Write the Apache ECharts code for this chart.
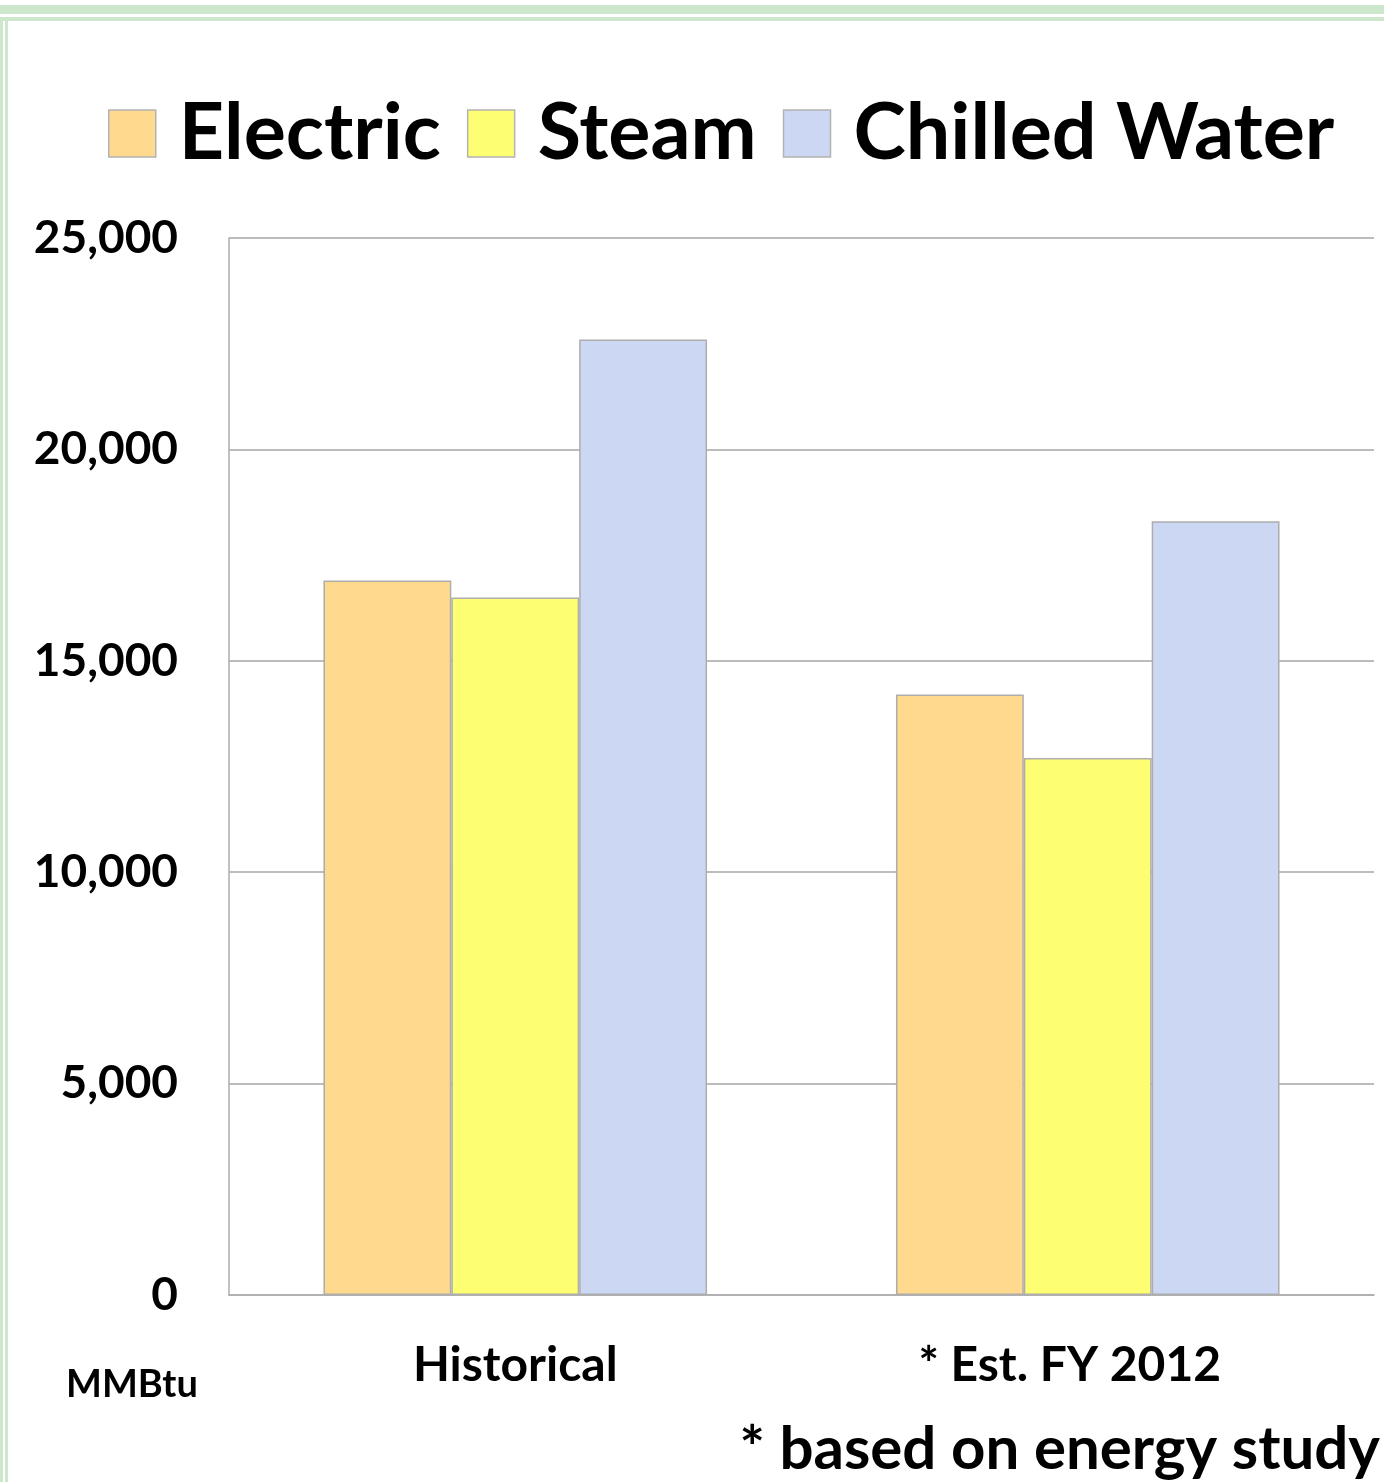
<!DOCTYPE html>
<html>
<head>
<meta charset="utf-8">
<script src="https://cdn.jsdelivr.net/npm/echarts@6/dist/echarts.min.js"></script>
<style>
html,body{margin:0;padding:0;background:#fff;}
#chart{width:1384px;height:1482px;}
</style>
</head>
<body>
<div id="chart"></div>
<script>
var categories = ['Historical', '* Est. FY 2012'];
var electric = [16900, 14200];
var steam = [16500, 12700];
var chilledWater = [22600, 18300];
var yTicks = [0, 5000, 10000, 15000, 20000, 25000];

var FONT = 'Lato';
var chart = echarts.init(document.getElementById('chart'));
var borderStyle = {color: '#adadad', width: 1.5};
function bar(name, data, color) {
  return {
    name: name, type: 'bar', data: data,
    barGap: '0%', barCategoryGap: '33%',
    itemStyle: {color: color, borderColor: '#adadad', borderWidth: 1.5}
  };
}
chart.setOption({
  animation: false,
  textStyle: {fontFamily: FONT},
  graphic: [
    {type: 'rect', shape: {x: 0, y: 5, width: 1384, height: 9}, style: {fill: '#cde7cd'}},
    {type: 'rect', shape: {x: 0, y: 17, width: 1384, height: 4}, style: {fill: '#cde7cd'}},
    {type: 'rect', shape: {x: 0, y: 17, width: 3, height: 1465}, style: {fill: '#cde7cd'}},
    {type: 'rect', shape: {x: 5, y: 17, width: 3, height: 1465}, style: {fill: '#cde7cd'}},
    {type: 'text', left: 66, top: 1366, style: {text: 'MMBtu', font: 'bold 38px Lato', fill: '#000'}},
    {type: 'text', right: 4, top: 1420, style: {text: '* based on energy study', font: 'bold 60px Lato', fill: '#000'}}
  ],
  legend: {
    left: 108, top: 94, padding: 0,
    itemWidth: 47, itemHeight: 47, itemGap: 26,
    icon: 'rect',
    itemStyle: {borderColor: '#b3b3b3', borderWidth: 1.5},
    textStyle: {fontSize: 79, fontWeight: 'bold', color: '#000', fontFamily: FONT, padding: [0, 0, 0, 18]},
    data: ['Electric', 'Steam', 'Chilled Water']
  },
  grid: {left: 229, right: 10, top: 238, bottom: 187, containLabel: false},
  xAxis: {
    type: 'category', data: categories,
    axisLine: {show: true, lineStyle: borderStyle},
    axisTick: {show: false},
    axisLabel: {
      fontSize: 48, fontWeight: 'bold', color: '#000', margin: 47, fontFamily: FONT,
      formatter: function (v, i) { return i === 1 ? '{s|' + v + '}' : v; },
      rich: {s: {fontSize: 48, fontWeight: 'bold', color: '#000', fontFamily: FONT, padding: [0, 36, 0, 0]}}
    }
  },
  yAxis: {
    type: 'value', min: yTicks[0], max: yTicks[yTicks.length - 1], interval: 5000,
    axisLine: {show: true, lineStyle: borderStyle},
    axisTick: {show: false},
    splitLine: {show: true, lineStyle: {color: '#a6a6a6', width: 1.5}},
    axisLabel: {
      fontSize: 46, fontWeight: 'bold', color: '#000', margin: 51, fontFamily: FONT,
      formatter: function (v) { return v.toLocaleString('en-US'); }
    }
  },
  series: [
    bar('Electric', electric, '#fed98e'),
    bar('Steam', steam, '#fefe73'),
    bar('Chilled Water', chilledWater, '#ccd7f3')
  ]
});
</script>
</body>
</html>
